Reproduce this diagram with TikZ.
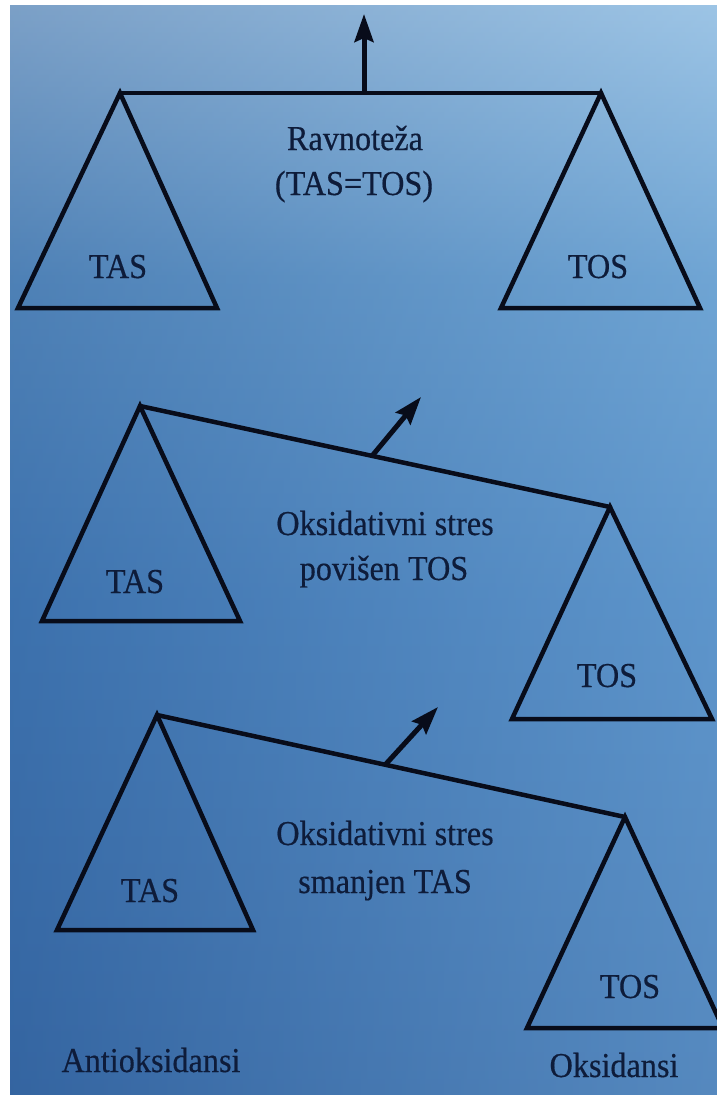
\documentclass[tikz,border=0pt]{standalone}
\usepackage{fontspec}
\setmainfont{Liberation Serif}[FakeStretch=0.92,FakeBold=0.4]
\usetikzlibrary{arrows.meta}
\definecolor{lncol}{RGB}{8,12,26}
\definecolor{txtcol}{RGB}{14,28,58}
\definecolor{ovl}{RGB}{40,80,140}
\definecolor{ovr}{RGB}{150,200,240}
\pgfdeclareverticalshading{bgvert}{100bp}{%
  rgb(0bp)=(0.227,0.431,0.667);
  rgb(25bp)=(0.227,0.431,0.667);
  rgb(47.5bp)=(0.275,0.502,0.737);
  rgb(62.5bp)=(0.372,0.588,0.784);
  rgb(75bp)=(0.627,0.765,0.882);
  rgb(100bp)=(0.627,0.765,0.882)}
\begin{document}
\begin{tikzpicture}[x=1pt,y=-1pt,
  beam/.style={line width=4.5pt, draw=lncol, line cap=round, line join=round},
  pan/.style={line width=4.5pt, draw=lncol, line join=miter},
  lift/.style={line width=5pt, draw=lncol, -{Stealth[length=28pt,width=19pt,inset=4pt]}},
  lbl/.style={text=txtcol, font=\fontsize{35}{40}\selectfont, inner sep=0pt, anchor=base}]
\useasboundingbox (0,0) rectangle (717,1095);
\fill[white] (0,0) rectangle (717,1095);
\shade[shading=bgvert] (10,5) rectangle (717,1095);
\shade[left color=ovl, right color=ovr, opacity=0.3] (10,5) rectangle (717,1095);

% ---------- top scale (balance) ----------
\coordinate (aL) at (120,93);
\coordinate (aR) at (601,93);
\coordinate (aLl) at (18,308);
\coordinate (aLr) at (217,308);
\coordinate (aRl) at (501,308);
\coordinate (aRr) at (700,308);
\coordinate (aM) at (364,93);
\coordinate (aT) at (364,14);
\draw[pan] (aL) -- (aLl) -- (aLr) -- cycle;
\draw[pan] (aR) -- (aRl) -- (aRr) -- cycle;
\draw[beam] (aL) -- (aR);
\draw[lift] (aM) -- (aT);
\node[lbl] (aT1) at (355,150) {Ravnoteža};
\node[lbl] (aT2) at (354,195) {(TAS=TOS)};
\node[lbl] (aTAS) at (118,278) {TAS};
\node[lbl] (aTOS) at (598,278) {TOS};

% ---------- middle scale ----------
\coordinate (bL) at (140,406);
\coordinate (bR) at (610,507);
\coordinate (bLl) at (42,621);
\coordinate (bLr) at (240,621);
\coordinate (bRl) at (512,719);
\coordinate (bRr) at (712,719);
\coordinate (bM) at (372,456);
\coordinate (bT) at (421,397);
\draw[pan] (bL) -- (bLl) -- (bLr) -- cycle;
\draw[pan] (bR) -- (bRl) -- (bRr) -- cycle;
\draw[beam] (bL) -- (bR);
\draw[lift] (bM) -- (bT);
\node[lbl] (bT1) at (385,535) {Oksidativni stres};
\node[lbl] (bT2) at (384,580) {povišen TOS};
\node[lbl] (bTAS) at (135,593) {TAS};
\node[lbl] (bTOS) at (607,687) {TOS};

% ---------- bottom scale ----------
\coordinate (cL) at (157,715);
\coordinate (cR) at (625,817);
\coordinate (cLl) at (57,930);
\coordinate (cLr) at (253,930);
\coordinate (cRl) at (527,1028);
\coordinate (cRr) at (723,1028);
\coordinate (cM) at (385,765);
\coordinate (cT) at (438,707);
\draw[pan] (cL) -- (cLl) -- (cLr) -- cycle;
\draw[pan] (cR) -- (cRl) -- (cRr) -- cycle;
\draw[beam] (cL) -- (cR);
\draw[lift] (cM) -- (cT);
\node[lbl] (cT1) at (385,845) {Oksidativni stres};
\node[lbl] (cT2) at (385,893) {smanjen TAS};
\node[lbl] (cTAS) at (150,902) {TAS};
\node[lbl] (cTOS) at (630,998) {TOS};

\node[lbl] (anti) at (151,1072) {Antioksidansi};
\node[lbl] (oks) at (614,1077) {Oksidansi};
\end{tikzpicture}
\end{document}
